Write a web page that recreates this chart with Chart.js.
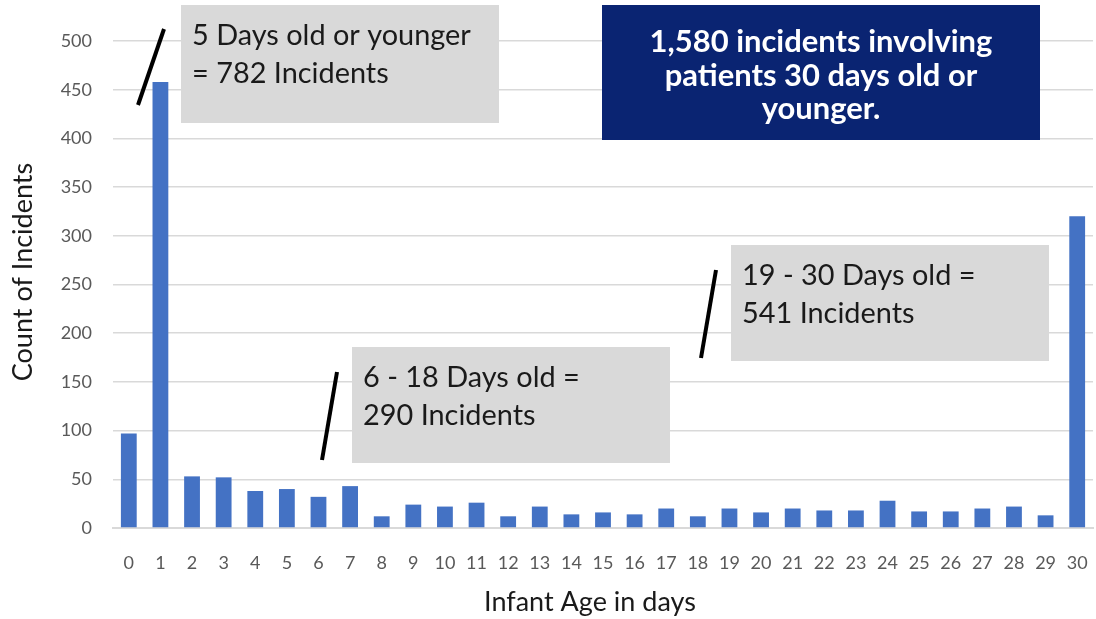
<!DOCTYPE html>
<html>
<head>
<meta charset="utf-8">
<script src="https://cdn.jsdelivr.net/npm/chart.js@4"></script>
<style>
  html, body { margin: 0; padding: 0; background: #ffffff; }
  #wrap { width: 1096px; height: 619px; position: relative; }
</style>
</head>
<body>
<div id="wrap"><canvas id="c" width="1096" height="619"></canvas></div>
<script>
// ---- Data ----
const categories = ['0','1','2','3','4','5','6','7','8','9','10','11','12','13','14','15','16','17','18','19','20','21','22','23','24','25','26','27','28','29','30'];
const incidentCounts = [97, 458, 53, 52, 38, 40, 32, 43, 12, 24, 22, 26, 12, 22, 14, 16, 14, 20, 12, 20, 16, 20, 18, 18, 28, 17, 17, 20, 22, 13, 320];
const yTicks = [0, 50, 100, 150, 200, 250, 300, 350, 400, 450, 500];
const xAxisTitle = 'Infant Age in days';
const yAxisTitle = 'Count of Incidents';
const noteYoung = ['5 Days old or younger', '= 782 Incidents'];
const noteMid = ['6 - 18 Days old =', '290 Incidents'];
const noteOld = ['19 - 30 Days old =', '541 Incidents'];
const noteTotal = ['1,580 incidents involving', 'patients 30 days old or', 'younger.'];

const FONT = 'Lato, "Open Sans", sans-serif';

function fitSize(ctx, text, target, weight) {
  ctx.font = weight + ' 100px ' + FONT;
  const w = ctx.measureText(text).width;
  return 100 * target / w;
}

const annotationPlugin = {
  id: 'notes',
  afterDraw(chart) {
    const ctx = chart.ctx;
    ctx.save();
    // axis titles
    ctx.fillStyle = '#1a1a1a';
    ctx.font = 'normal 27px ' + FONT;
    ctx.textAlign = 'center';
    ctx.textBaseline = 'middle';
    ctx.fillText(xAxisTitle, 590, 602);
    ctx.save();
    ctx.translate(23, 272);
    ctx.rotate(-Math.PI / 2);
    ctx.fillText(yAxisTitle, 0, 0);
    ctx.restore();

    // grey callout boxes
    const grey = '#d9d9d9';
    const size = fitSize(ctx, noteYoung[0], 279, 'normal');
    const boxes = [
      {x: 181, y: 5,   w: 318, h: 118, lines: noteYoung, ln: [164, 29, 138, 105]},
      {x: 352, y: 347, w: 318, h: 116, lines: noteMid,   ln: [337, 372, 322, 460]},
      {x: 731, y: 245, w: 318, h: 116, lines: noteOld,   ln: [716, 270, 701, 358]}
    ];
    boxes.forEach(b => {
      ctx.fillStyle = grey;
      ctx.fillRect(b.x, b.y, b.w, b.h);
      ctx.fillStyle = '#1a1a1a';
      ctx.font = 'normal ' + size + 'px ' + FONT;
      ctx.textAlign = 'left';
      ctx.textBaseline = 'alphabetic';
      b.lines.forEach((t, i) => ctx.fillText(t, b.x + 11, b.y + 40 + i * 38));
      ctx.strokeStyle = '#000000';
      ctx.lineWidth = 4;
      ctx.lineCap = 'butt';
      ctx.beginPath();
      ctx.moveTo(b.ln[0], b.ln[1]);
      ctx.lineTo(b.ln[2], b.ln[3]);
      ctx.stroke();
    });
    // navy summary box
    ctx.fillStyle = '#0a2472';
    ctx.fillRect(602, 5, 438, 135);
    const bsize = fitSize(ctx, noteTotal[0], 343, 'bold');
    ctx.fillStyle = '#ffffff';
    ctx.font = 'bold ' + bsize + 'px ' + FONT;
    ctx.textAlign = 'center';
    ctx.textBaseline = 'alphabetic';
    noteTotal.forEach((t, i) => ctx.fillText(t, 821, 52 + i * 33.5));
    ctx.restore();
  }
};

new Chart(document.getElementById('c'), {
  type: 'bar',
  data: {
    labels: categories,
    datasets: [{
      label: yAxisTitle,
      data: incidentCounts,
      backgroundColor: '#4472c4',
      borderWidth: 0,
      barPercentage: 0.5,
      categoryPercentage: 1.0
    }]
  },
  options: {
    responsive: false,
    animation: false,
    devicePixelRatio: 1,
    layout: { padding: { top: 41, right: 3, left: 0, bottom: 0 } },
    plugins: { legend: { display: false }, tooltip: { enabled: false } },
    scales: {
      x: {
        grid: { display: true, drawOnChartArea: false, drawTicks: true, tickLength: 21, tickColor: 'rgba(0,0,0,0)', color: 'rgba(0,0,0,0)' },
        border: { display: true, color: '#d9d9d9', width: 2 },
        ticks: {
          color: '#595959', autoSkip: false, maxRotation: 0, minRotation: 0,
          padding: 3, font: { family: FONT, size: 18 }
        },
        title: { display: false, text: xAxisTitle },
        afterFit(s) { s.height = 91; }
      },
      y: {
        min: 0, max: 500,
        afterBuildTicks(s) { s.ticks = yTicks.map(v => ({ value: v })); },
        grid: { color: '#d9d9d9', lineWidth: 1.5, drawTicks: false },
        border: { display: false },
        ticks: { color: '#595959', padding: 21, font: { family: FONT, size: 18 } },
        title: { display: false, text: yAxisTitle },
        afterFit(s) { s.width = 113; }
      }
    }
  },
  plugins: [annotationPlugin]
});
</script>
</body>
</html>
